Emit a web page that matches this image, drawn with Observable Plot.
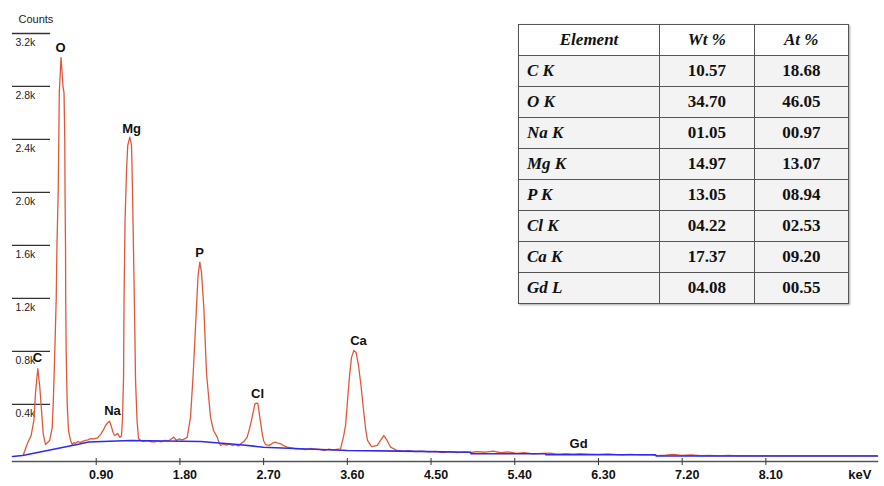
<!DOCTYPE html>
<html>
<head>
<meta charset="utf-8">
<script src="https://cdn.jsdelivr.net/npm/d3@7"></script>
<script src="https://cdn.jsdelivr.net/npm/@observablehq/plot@0.6"></script>
<style>
  html, body { margin: 0; padding: 0; background: #fff; }
  #wrap { position: relative; width: 884px; height: 486px; overflow: hidden; background: #fff; }
  #chart svg { display: block; }
  #tbl {
    position: absolute; left: 518px; top: 24px; width: 331px; height: 276px;
    border-collapse: collapse; font-family: "Liberation Serif", "Times New Roman", serif;
    font-size: 17px; font-weight: bold; color: #111;
    box-shadow: 1px 1px 2px rgba(0,0,0,0.35);
  }
  #tbl td, #tbl th { border: 1.5px solid #555; padding: 0; height: 30px; }
  #tbl th { font-style: italic; background: #fff; text-align: center; }
  #tbl td { background: #f3f3f3; text-align: center; }
  #tbl td.el { text-align: left; padding-left: 8px; font-style: italic; }
</style>
</head>
<body>
<div id="wrap">
  <div id="chart"></div>
  <table id="tbl"></table>
</div>
<script>
// ---- data (keV, counts) ----
const spectrumKeV = [0.115,0.16,0.20,0.23,0.247,0.272,0.294,0.312,0.33,0.355,0.40,0.427,0.438,0.455,0.470,0.478,0.491,0.498,0.503,0.522,0.543,0.554,0.562,0.565,0.570,0.572,0.577,0.588,0.602,0.624,0.642,0.66,0.677,0.70,0.731,0.76,0.785,0.81,0.839,0.87,0.91,0.95,0.98,1.0,1.025,1.043,1.06,1.08,1.097,1.113,1.13,1.155,1.172,1.183,1.194,1.199,1.21,1.226,1.239,1.261,1.28,1.29,1.301,1.312,1.323,1.339,1.355,1.376,1.41,1.44,1.484,1.52,1.56,1.60,1.64,1.68,1.71,1.735,1.76,1.79,1.825,1.855,1.879,1.914,1.943,1.978,1.995,2.014,2.032,2.057,2.086,2.129,2.161,2.201,2.218,2.237,2.27,2.30,2.33,2.366,2.40,2.43,2.452,2.49,2.523,2.55,2.577,2.606,2.624,2.638,2.659,2.685,2.70,2.72,2.76,2.80,2.828,2.855,2.882,2.92,2.954,3.00,3.05,3.097,3.15,3.20,3.24,3.30,3.35,3.40,3.45,3.50,3.527,3.56,3.581,3.602,3.624,3.645,3.67,3.694,3.72,3.747,3.771,3.796,3.817,3.86,3.922,3.957,3.992,4.022,4.065,4.136,4.20,4.26,4.33,4.40,4.48,4.55,4.62,4.70,4.78,4.86,4.93,5.00,5.08,5.17,5.25,5.33,5.42,5.50,5.60,5.70,5.78,5.86,5.95,6.03,6.10,6.20,6.30,6.40,6.50,6.57,6.65,6.75,6.85,6.935,7.02,7.10,7.20,7.30,7.40,7.50,7.60,7.70,7.80,7.90,8.00,8.10,8.20,8.30,8.45,9.30];
const spectrumCounts = [15,104,164,278,482,670,527,353,179,96,127,225,406,799,1199,1599,1992,2400,2755,3019,2800,2750,2400,1992,1599,1199,799,406,202,127,96,110,105,118,112,122,127,132,140,138,144,175,210,240,262,272,240,190,164,170,180,150,160,300,600,1184,1788,2166,2355,2417,2355,2015,1562,1109,580,278,142,127,119,126,119,115,122,117,128,124,140,152,128,138,132,140,152,303,633,1133,1373,1473,1396,1133,633,303,202,152,114,89,100,92,99,89,95,85,102,120,152,220,303,404,408,406,303,177,125,96,90,108,114,106,102,86,76,70,64,64,58,66,64,60,52,61,56,62,64,160,240,429,618,754,806,791,693,542,376,217,127,81,89,127,164,134,76,51,44,50,42,47,40,44,36,42,35,40,36,42,38,46,34,40,30,35,26,30,31,24,28,23,27,24,22,25,20,19,22,18,20,13,16,21,15,17,12,15,11,14,10,13,10,12,10,11,10,10];

// background (blue) line
const backgroundKeV = [0,0.108,0.696,0.817,1.269,2.022,2.452,2.699,3.097,3.602,4.172,4.925,4.93,5.731,5.737,6.914,6.92,9.30];
const backgroundCounts = [6,13,96,115,127,119,94,76,64,51,46,38,26,26,19,19,10,10];

// peak labels
const peakNames = ["C","O","Na","Mg","P","Cl","Ca","Gd"];
const peakKeV = [0.269,0.516,1.075,1.28,2.011,2.634,3.72,6.086];
const peakCounts = [754,3095,353,2483,1547,482,882,104];

// axes
const xTicks = [0.9,1.8,2.7,3.6,4.5,5.4,6.3,7.2,8.1];
const xTickLabels = ["0.90","1.80","2.70","3.60","4.50","5.40","6.30","7.20","8.10"];
const yTicks = [400,800,1200,1600,2000,2400,2800,3200];
const yTickLabels = ["0.4k","0.8k","1.2k","1.6k","2.0k","2.4k","2.8k","3.2k"];

// table
const tableHeader = ["Element","Wt %","At %"];
const elements = ["C K","O K","Na K","Mg K","P K","Cl K","Ca K","Gd L"];
const wtPct = ["10.57","34.70","01.05","14.97","13.05","04.22","17.37","04.08"];
const atPct = ["18.68","46.05","00.97","13.07","08.94","02.53","09.20","00.55"];

const spectrum = spectrumKeV.map((k, i) => ({keV: k, counts: spectrumCounts[i]}));
const background = backgroundKeV.map((k, i) => ({keV: k, counts: backgroundCounts[i]}));

const narrow = "'Liberation Sans Narrow', 'Arial Narrow', 'Liberation Sans', sans-serif";
const sans = "'Liberation Sans', Arial, sans-serif";

const chart = Plot.plot({
  width: 884,
  height: 486,
  marginLeft: 12,
  marginRight: 7,
  marginTop: 33,
  marginBottom: 25,
  x: {domain: [0, 9.30], axis: null, label: null},
  y: {domain: [-32, 3200], axis: null, label: null},
  style: {background: "transparent", overflow: "visible"},
  marks: [
    Plot.axisY({ticks: yTicks, anchor: "left", label: null, tickSize: -38, tickFormat: () => "", stroke: "#333", strokeWidth: 1.3}),
    Plot.axisY({ticks: yTicks, anchor: "left", label: null, tickSize: 0, tickFormat: d => yTickLabels[yTicks.indexOf(d)],
      textAnchor: "start", dx: 12, dy: 9, fontFamily: narrow, fontSize: 10.5, fill: "#222"}),
    Plot.line(spectrum, {x: "keV", y: "counts", stroke: "#e0583a", strokeWidth: 1.3}),
    Plot.line(background, {x: "keV", y: "counts", stroke: "#2b2bf2", strokeWidth: 1.6}),
    Plot.frame({anchor: "bottom", stroke: "#555", strokeWidth: 1.5}),
    Plot.axisX({ticks: xTicks, anchor: "bottom", label: null, tickSize: 4, tickFormat: () => "", stroke: "#333"}),
    Plot.axisX({ticks: xTicks, anchor: "bottom", label: null, tickSize: -3, tickFormat: () => "", stroke: "#333"}),
    Plot.axisX({ticks: xTicks, anchor: "bottom", label: null, tickSize: 0, tickPadding: 9, dx: 5,
      tickFormat: d => xTickLabels[xTicks.indexOf(d)], fontFamily: sans, fontWeight: "bold", fontSize: 12.5, fill: "#111"}),
    Plot.text(peakNames, {x: (d, i) => peakKeV[i], y: (d, i) => peakCounts[i], text: d => d,
      fontFamily: sans, fontWeight: "bold", fontSize: 13, fill: "#111"}),
    Plot.text(["Counts"], {frameAnchor: "top-left", text: d => d, textAnchor: "start", dx: 6, dy: -18,
      fontFamily: narrow, fontSize: 11, fill: "#222"}),
    Plot.text(["keV"], {frameAnchor: "bottom-right", text: d => d, textAnchor: "end", dx: -6, dy: 17,
      fontFamily: sans, fontWeight: "bold", fontSize: 13, fill: "#111"})
  ]
});
document.getElementById("chart").appendChild(chart);

// build table
const tbl = document.getElementById("tbl");
const hr = document.createElement("tr");
tableHeader.forEach((h, j) => {
  const th = document.createElement("th");
  th.textContent = h;
  th.style.width = j === 0 ? "141px" : "94px";
  hr.appendChild(th);
});
tbl.appendChild(hr);
elements.forEach((e, i) => {
  const tr = document.createElement("tr");
  [e, wtPct[i], atPct[i]].forEach((v, j) => {
    const td = document.createElement("td");
    td.textContent = v;
    if (j === 0) td.className = "el";
    tr.appendChild(td);
  });
  tbl.appendChild(tr);
});
</script>
</body>
</html>
